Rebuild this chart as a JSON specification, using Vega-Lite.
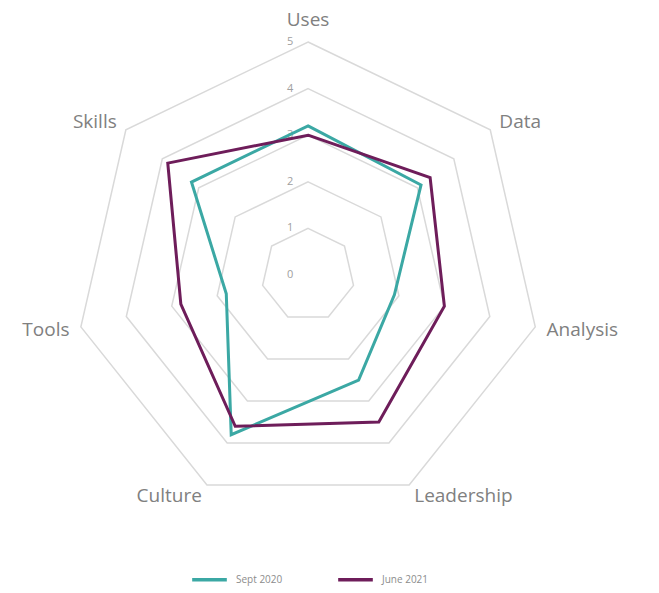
{
  "$schema": "https://vega.github.io/schema/vega-lite/v6.json",
  "width": 659,
  "height": 593,
  "padding": 0,
  "autosize": {"type": "none"},
  "background": "white",
  "config": {"view": {"stroke": null}, "font": "Open Sans"},
  "datasets": {
    "scores": [
      {"series": "Sept 2020", "axis": "Uses", "value": 3.2},
      {"series": "Sept 2020", "axis": "Data", "value": 3.1},
      {"series": "Sept 2020", "axis": "Analysis", "value": 1.9},
      {"series": "Sept 2020", "axis": "Leadership", "value": 2.5},
      {"series": "Sept 2020", "axis": "Culture", "value": 3.8},
      {"series": "Sept 2020", "axis": "Tools", "value": 1.8},
      {"series": "Sept 2020", "axis": "Skills", "value": 3.2},
      {"series": "June 2021", "axis": "Uses", "value": 3.0},
      {"series": "June 2021", "axis": "Data", "value": 3.35},
      {"series": "June 2021", "axis": "Analysis", "value": 3.0},
      {"series": "June 2021", "axis": "Leadership", "value": 3.5},
      {"series": "June 2021", "axis": "Culture", "value": 3.6},
      {"series": "June 2021", "axis": "Tools", "value": 2.8},
      {"series": "June 2021", "axis": "Skills", "value": 3.85}
    ],
    "rings": [
      {"level": 1, "axis": ["Uses", "Data", "Analysis", "Leadership", "Culture", "Tools", "Skills"]},
      {"level": 2, "axis": ["Uses", "Data", "Analysis", "Leadership", "Culture", "Tools", "Skills"]},
      {"level": 3, "axis": ["Uses", "Data", "Analysis", "Leadership", "Culture", "Tools", "Skills"]},
      {"level": 4, "axis": ["Uses", "Data", "Analysis", "Leadership", "Culture", "Tools", "Skills"]},
      {"level": 5, "axis": ["Uses", "Data", "Analysis", "Leadership", "Culture", "Tools", "Skills"]}
    ],
    "axes": [
      {"axis": "Uses"}, {"axis": "Data"}, {"axis": "Analysis"}, {"axis": "Leadership"},
      {"axis": "Culture"}, {"axis": "Tools"}, {"axis": "Skills"}
    ],
    "ticks": [
      {"level": 0}, {"level": 1}, {"level": 2}, {"level": 3}, {"level": 4}, {"level": 5}
    ]
  },
  "layer": [
    {
      "data": {"name": "rings"},
      "transform": [
        {"flatten": ["axis"]},
        {"window": [{"op": "row_number", "as": "idx"}], "groupby": ["level"]},
        {"calculate": "(datum.idx - 1) * 2 * PI / 7", "as": "a"},
        {"calculate": "datum.level * sin(datum.a)", "as": "x"},
        {"calculate": "datum.level * cos(datum.a)", "as": "y"}
      ],
      "mark": {"type": "line", "interpolate": "linear-closed", "stroke": "#d9d9d9", "strokeWidth": 1.5},
      "encoding": {
        "x": {"field": "x", "type": "quantitative", "scale": {"domain": [-6.61, 7.53], "nice": false, "zero": false}, "axis": null},
        "y": {"field": "y", "type": "quantitative", "scale": {"domain": [-6.82, 5.9], "nice": false, "zero": false}, "axis": null},
        "detail": {"field": "level", "type": "nominal"},
        "order": {"field": "idx", "type": "quantitative"}
      }
    },
    {
      "data": {"name": "ticks"},
      "mark": {"type": "text", "dx": -18, "fontSize": 11, "color": "#a0a0a0", "fill": "#a0a0a0", "align": "center", "baseline": "middle"},
      "encoding": {
        "x": {"datum": 0, "type": "quantitative"},
        "y": {"field": "level", "type": "quantitative"},
        "text": {"field": "level", "type": "quantitative", "format": "d"}
      }
    },
    {
      "data": {"name": "axes"},
      "transform": [
        {"window": [{"op": "row_number", "as": "idx"}]},
        {"calculate": "(datum.idx - 1) * 2 * PI / 7", "as": "a"},
        {"calculate": "5.25 * sin(datum.a)", "as": "x"},
        {"calculate": "5.25 * cos(datum.a)", "as": "y"},
        {"calculate": "abs(sin(datum.a)) < 0.01 ? 'center' : (sin(datum.a) > 0 ? 'left' : 'right')", "as": "al"},
        {"calculate": "cos(datum.a) > 0.99 ? 'bottom' : 'middle'", "as": "bl"}
      ],
      "mark": {"type": "text", "fontSize": 19, "color": "#808080", "fill": "#808080", "align": {"expr": "datum.al"}, "baseline": {"expr": "datum.bl"}},
      "encoding": {
        "x": {"field": "x", "type": "quantitative"},
        "y": {"field": "y", "type": "quantitative"},
        "text": {"field": "axis", "type": "nominal"}
      }
    },
    {
      "data": {"name": "scores"},
      "transform": [
        {"window": [{"op": "row_number", "as": "idx"}], "groupby": ["series"]},
        {"calculate": "(datum.idx - 1) * 2 * PI / 7", "as": "a"},
        {"calculate": "datum.value * sin(datum.a)", "as": "x"},
        {"calculate": "datum.value * cos(datum.a)", "as": "y"}
      ],
      "mark": {"type": "line", "interpolate": "linear-closed", "strokeWidth": 3, "strokeJoin": "miter"},
      "encoding": {
        "x": {"field": "x", "type": "quantitative"},
        "y": {"field": "y", "type": "quantitative"},
        "order": {"field": "idx", "type": "quantitative"},
        "color": {
          "field": "series",
          "type": "nominal",
          "sort": ["Sept 2020", "June 2021"],
          "scale": {"domain": ["Sept 2020", "June 2021"], "range": ["#3BA8A4", "#6E1D5A"]},
          "legend": {
            "orient": "none",
            "legendX": 190,
            "legendY": 560,
            "direction": "horizontal",
            "title": null,
            "symbolType": "stroke",
            "symbolStrokeWidth": 3.5,
            "symbolSize": 1200,
            "labelFontSize": 10,
            "labelColor": "#8c8c8c",
            "labelOffset": 7,
            "columnPadding": 48
          }
        }
      }
    }
  ]
}
